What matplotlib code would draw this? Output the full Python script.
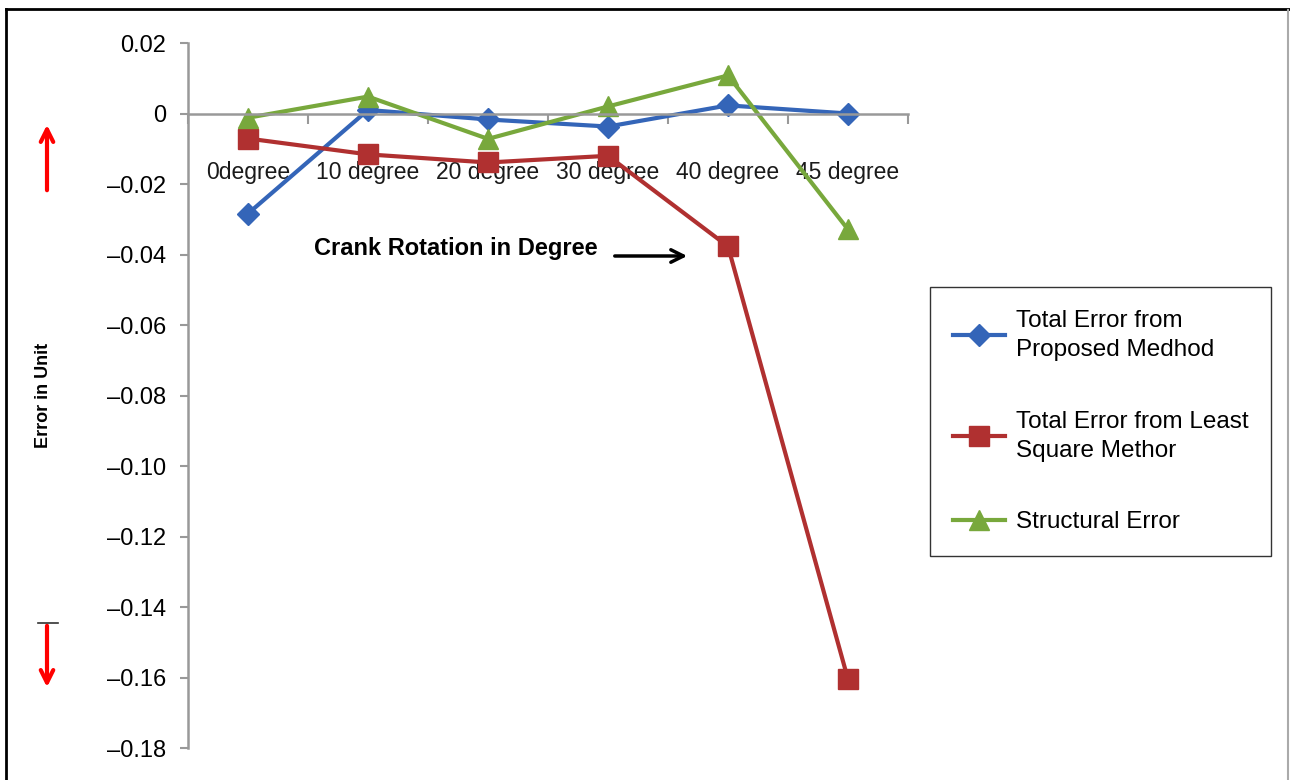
import matplotlib
matplotlib.use('Agg')
import matplotlib.pyplot as plt
from matplotlib.lines import Line2D

plt.rcParams['font.family'] = ['Liberation Sans', 'DejaVu Sans']

categories = ['0degree', '10 degree', '20 degree', '30 degree', '40 degree', '45 degree']
proposed = [-0.0284, 0.0010, -0.0017, -0.0037, 0.0023, 0.0000]
least_square = [-0.0071, -0.0116, -0.0139, -0.0120, -0.0377, -0.1605]
structural = [-0.0012, 0.0048, -0.0072, 0.0020, 0.0108, -0.0329]
yticks = [0.02, 0, -0.02, -0.04, -0.06, -0.08, -0.10, -0.12, -0.14, -0.16, -0.18]
ytick_labels = ['0.02', '0', '\u20130.02', '\u20130.04', '\u20130.06', '\u20130.08',
                '\u20130.10', '\u20130.12', '\u20130.14', '\u20130.16', '\u20130.18']

W, H = 1290, 780
fig = plt.figure(figsize=(W / 100, H / 100), dpi=100)
ax = fig.add_axes([188 / W, 1 - 748 / H, 720 / W, 705 / H])

x = list(range(len(categories)))
l1, = ax.plot(x, proposed, color='#3465B8', lw=3, marker='D', ms=11, label='Total Error from\nProposed Medhod')
l2, = ax.plot(x, least_square, color='#B03030', lw=3, marker='s', ms=14, label='Total Error from Least\nSquare Methor')
l3, = ax.plot(x, structural, color='#78A83C', lw=3, marker='^', ms=15, label='Structural Error')

ax.set_xlim(-0.5, len(categories) - 0.5)
ax.set_ylim(-0.18, 0.02)
ax.set_yticks(yticks)
ax.set_yticklabels(ytick_labels, fontsize=17)
ax.tick_params(axis='y', colors='#999999', labelcolor='black', length=6, width=1.5, pad=10)

# category labels on minor ticks, boundary tick marks on major ticks
ax.set_xticks([i - 0.5 for i in range(len(categories) + 1)])
ax.set_xticklabels([])
ax.set_xticks(x, minor=True)
ax.set_xticklabels(categories, minor=True)
ax.tick_params(axis='x', which='major', colors='#999999', length=7, width=1.5, direction='out')
ax.tick_params(axis='x', which='minor', length=0, pad=34, labelsize=20, labelcolor='#1a1a1a')
for t in ax.get_xticklabels(minor=True):
    t.set_family(['Liberation Sans Narrow', 'DejaVu Sans Condensed', 'Liberation Sans'])

for s in ['top', 'right']:
    ax.spines[s].set_visible(False)
ax.spines['bottom'].set_position(('data', 0))
ax.spines['bottom'].set_color('#999999')
ax.spines['bottom'].set_linewidth(1.8)
ax.spines['left'].set_color('#999999')
ax.spines['left'].set_linewidth(1.8)

fig.text(43 / W, 1 - 395 / H, 'Error in Unit', rotation=90, fontsize=13, fontweight='bold',
         ha='center', va='center')
fig.text(456 / W, 1 - 248 / H, 'Crank Rotation in Degree', fontsize=17, fontweight='bold',
         ha='center', va='center')

# arrows
arrow = '->, head_length=0.9, head_width=0.45'
ax.annotate('', xy=(690, H - 256), xytext=(612, H - 256), xycoords='figure pixels',
            textcoords='figure pixels', arrowprops=dict(arrowstyle=arrow, lw=2.5, color='black'))
ax.annotate('', xy=(47, H - 122), xytext=(47, H - 193), xycoords='figure pixels',
            textcoords='figure pixels', arrowprops=dict(arrowstyle=arrow, lw=3, color='red'))
ax.annotate('', xy=(47, H - 690), xytext=(47, H - 623), xycoords='figure pixels',
            textcoords='figure pixels', arrowprops=dict(arrowstyle=arrow, lw=3, color='red'))
fig.add_artist(Line2D([38 / W, 58 / W], [1 - 623 / H, 1 - 623 / H], color='#333333', lw=1.2))

leg = ax.legend(handles=[l1, l2, l3], loc='upper left', bbox_to_anchor=(930 / W, 1 - 287 / H),
                bbox_transform=fig.transFigure, fontsize=17.5, frameon=True, fancybox=False,
                handlelength=2.15, handletextpad=0.42, labelspacing=2.05, borderpad=0.95,
                borderaxespad=0)
for t in leg.get_texts():
    t.set_linespacing(1.4)
leg.get_frame().set_edgecolor('black')
leg.get_frame().set_linewidth(1)

# outer frame
fig.add_artist(Line2D([6 / W, 1], [1 - 9 / H, 1 - 9 / H], color='black', lw=2))
fig.add_artist(Line2D([6 / W, 6 / W], [0, 1 - 9 / H], color='black', lw=2))
fig.add_artist(Line2D([1288 / W, 1288 / W], [0, 1 - 10 / H], color='#aaaaaa', lw=1.5))

# fit the category label size to the reference label width, whatever face was found
fig.canvas.draw()
labels = ax.get_xticklabels(minor=True)
w = labels[1].get_window_extent().width
size = labels[1].get_fontsize() * 103 / w
for t in labels:
    t.set_fontsize(size)

fig.savefig('out.png', dpi=100)
